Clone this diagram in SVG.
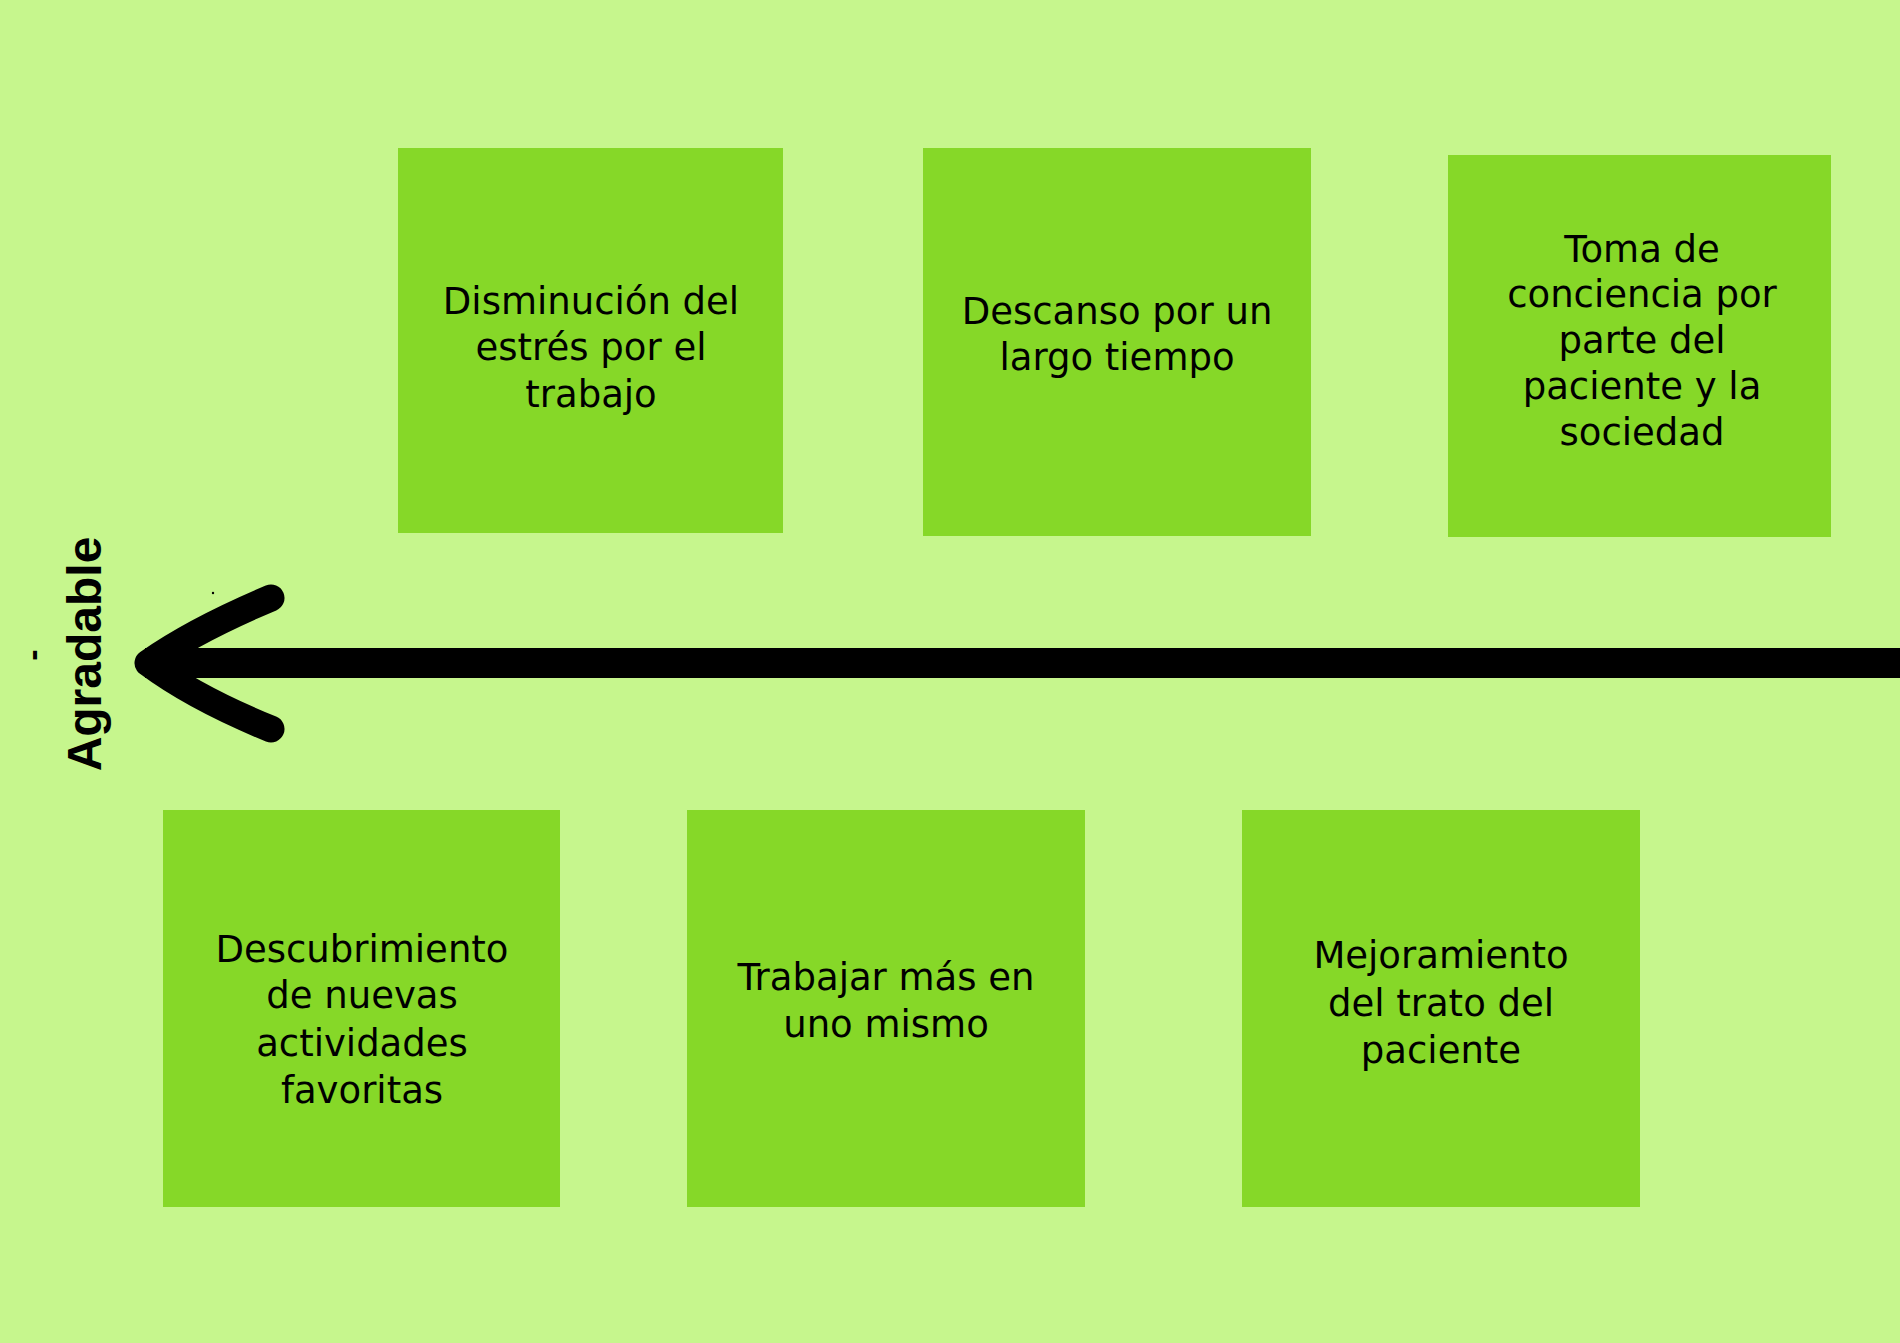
<svg xmlns="http://www.w3.org/2000/svg" width="1900" height="1343" viewBox="0 0 1900 1343">
<style>
.bg{fill:#C6F68D}
.box{fill:#86D828}
.t{font-family:"DejaVu Sans","Liberation Sans",sans-serif;font-size:37px;fill:#000;text-anchor:middle}
.lab{font-family:"Liberation Sans","DejaVu Sans",sans-serif;font-weight:bold;fill:#000;text-anchor:middle}
</style>
<rect class="bg" x="0" y="0" width="1900" height="1343"/>
<g id="connectors">
<rect x="145" y="648" width="1755" height="30" fill="#000"/>
<path d="M271,598 Q195,630 148,663 Q195,698 271,729" fill="none" stroke="#000" stroke-width="27" stroke-linecap="round" stroke-linejoin="round"/>
<circle cx="213" cy="593" r="1.2" fill="#000"/>
</g>
<g id="axis-label">
<text class="lab" font-size="48" transform="translate(101,654) rotate(-90)">Agradable</text>
<text class="lab" font-size="34" transform="translate(44,655) rotate(-90)">-</text>
</g>
<g id="n1">
<rect class="box" x="398" y="148" width="385" height="385"/>
<text class="t"><tspan x="591" y="314">Disminución del</tspan><tspan x="591" y="360">estrés por el</tspan><tspan x="591" y="407">trabajo</tspan></text>
</g>
<g id="n2">
<rect class="box" x="923" y="148" width="388" height="388"/>
<text class="t"><tspan x="1117" y="324">Descanso por un</tspan><tspan x="1117" y="370">largo tiempo</tspan></text>
</g>
<g id="n3">
<rect class="box" x="1448" y="155" width="383" height="382"/>
<text class="t"><tspan x="1642" y="262">Toma de</tspan><tspan x="1642" y="307">conciencia por</tspan><tspan x="1642" y="353">parte del</tspan><tspan x="1642" y="399">paciente y la</tspan><tspan x="1642" y="445">sociedad</tspan></text>
</g>
<g id="n4">
<rect class="box" x="163" y="810" width="397" height="397"/>
<text class="t"><tspan x="362" y="962">Descubrimiento</tspan><tspan x="362" y="1008">de nuevas</tspan><tspan x="362" y="1056">actividades</tspan><tspan x="362" y="1103">favoritas</tspan></text>
</g>
<g id="n5">
<rect class="box" x="687" y="810" width="398" height="397"/>
<text class="t"><tspan x="886" y="990">Trabajar más en</tspan><tspan x="886" y="1037">uno mismo</tspan></text>
</g>
<g id="n6">
<rect class="box" x="1242" y="810" width="398" height="397"/>
<text class="t"><tspan x="1441" y="968">Mejoramiento</tspan><tspan x="1441" y="1016">del trato del</tspan><tspan x="1441" y="1063">paciente</tspan></text>
</g>
</svg>
